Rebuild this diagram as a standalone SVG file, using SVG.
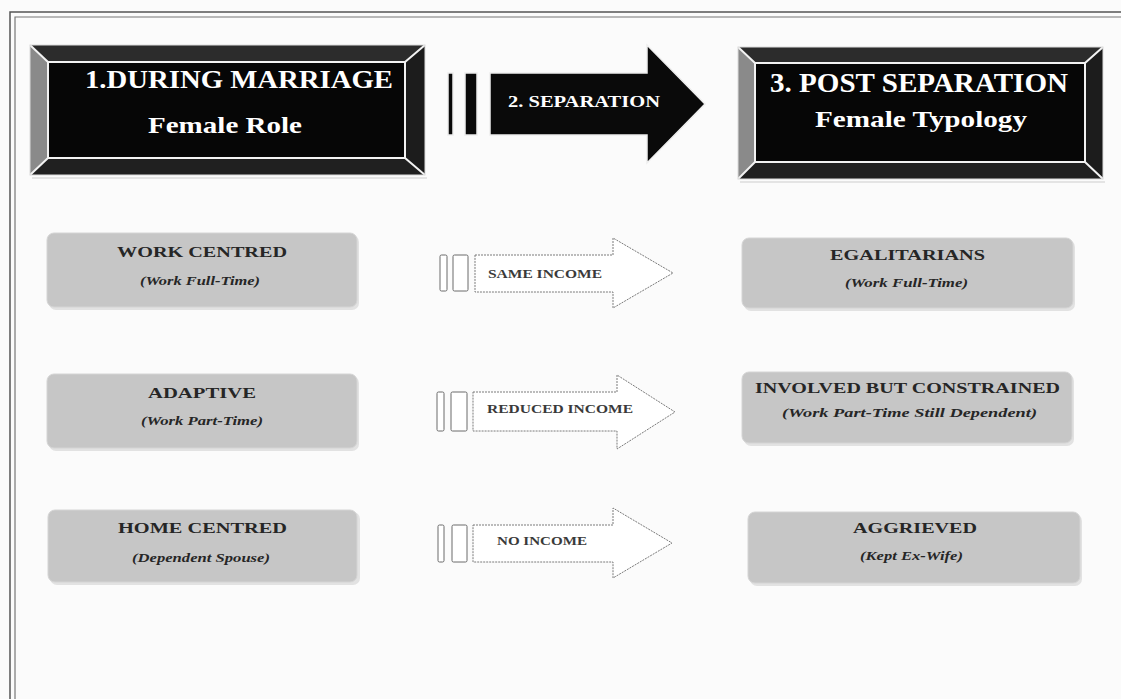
<svg xmlns="http://www.w3.org/2000/svg" width="1121" height="699" viewBox="0 0 1121 699" font-family="'Liberation Serif', 'DejaVu Serif', serif">
<defs>
<style>
text{font-family:'Liberation Serif','DejaVu Serif',serif}
.hdr{font-weight:bold;fill:#ffffff}
.nt{font-weight:bold;font-size:15px;fill:#262626}
.ns{font-weight:bold;font-style:italic;font-size:13px;fill:#262626}
.at{font-weight:bold;font-size:13px;fill:#3a3a3a}
.node{fill:#c6c6c6;stroke:#d4d4d4;stroke-width:1}
.shadow{fill:#e2e2e2}
.arr{fill:#ffffff;stroke:#7a7a7a;stroke-width:1;stroke-dasharray:2 1}
.bar{fill:#ffffff;stroke:#6a6a6a;stroke-width:1}
.bevT{fill:#2c2c2c}
.bevL{fill:#8a8a8a}
.bevR{fill:#1c1c1c}
.bevB{fill:#202020}
.face{fill:#060606;stroke:#f2f2f2;stroke-width:2}
.wl{stroke:#f2f2f2;stroke-width:2;fill:none}
</style>
</defs>
<rect x="0" y="0" width="1121" height="699" fill="#fbfbfb"/>
<g id="frame" fill="none">
<polyline points="10,699 10,12 1121,12" stroke="#555" stroke-width="1.5"/>
<polyline points="15,699 15,17 1121,17" stroke="#777" stroke-width="1.2"/>
</g>

<g id="header-during-marriage">
<rect x="32" y="177" width="395" height="2" fill="#e4e4e4"/>
<polygon class="bevT" points="30,45 425,45 405,62 48,62"/>
<polygon class="bevL" points="30,45 48,62 48,158 30,175"/>
<polygon class="bevR" points="425,45 425,175 405,158 405,62"/>
<polygon class="bevB" points="30,175 48,158 405,158 425,175"/>
<rect class="face" x="48" y="62" width="357" height="96"/>
<path class="wl" d="M30,45 L48,62 M425,45 L405,62 M30,175 L48,158 M425,175 L405,158"/>
<rect x="30" y="45" width="395" height="130" fill="none" stroke="#dcdcdc" stroke-width="1"/>
<text class="hdr" x="85" y="88" font-size="26" textLength="308" lengthAdjust="spacingAndGlyphs">1.DURING MARRIAGE</text>
<text class="hdr" x="148" y="133" font-size="23" textLength="154" lengthAdjust="spacingAndGlyphs">Female Role</text>
</g>

<g id="header-separation">
<rect x="448" y="73" width="5" height="62" fill="#0a0a0a" stroke="#eee" stroke-width="1.5"/>
<rect x="465" y="73" width="12" height="62" fill="#0a0a0a" stroke="#eee" stroke-width="1.5"/>
<path d="M490,73 H647 V45 L705,104 L647,163 V135 H490 Z" fill="#0a0a0a" stroke="#eee" stroke-width="1.5"/>
<text class="hdr" x="508" y="107" font-size="17" textLength="152" lengthAdjust="spacingAndGlyphs">2. SEPARATION</text>
</g>

<g id="header-post-separation">
<rect x="740" y="181" width="365" height="2" fill="#e4e4e4"/>
<polygon class="bevT" points="738,47 1103,47 1085,63 755,63"/>
<polygon class="bevL" points="738,47 755,63 755,162 738,179"/>
<polygon class="bevR" points="1103,47 1103,179 1085,162 1085,63"/>
<polygon class="bevB" points="738,179 755,162 1085,162 1103,179"/>
<rect class="face" x="755" y="63" width="330" height="99"/>
<path class="wl" d="M738,47 L755,63 M1103,47 L1085,63 M738,179 L755,162 M1103,179 L1085,162"/>
<rect x="738" y="47" width="365" height="132" fill="none" stroke="#dcdcdc" stroke-width="1"/>
<text class="hdr" x="770" y="92" font-size="27" textLength="298" lengthAdjust="spacingAndGlyphs">3. POST SEPARATION</text>
<text class="hdr" x="815" y="127" font-size="24" textLength="212" lengthAdjust="spacingAndGlyphs">Female Typology</text>
</g>

<g id="node-work-centred">
<rect class="shadow" x="49" y="235" width="310" height="75" rx="7"/>
<rect class="node" x="47" y="233" width="310" height="74" rx="7"/>
<text class="nt" x="117" y="257" textLength="170" lengthAdjust="spacingAndGlyphs">WORK CENTRED</text>
<text class="ns" x="140" y="285" textLength="120" lengthAdjust="spacingAndGlyphs">(Work Full-Time)</text>
</g>

<g id="node-adaptive">
<rect class="shadow" x="49" y="376" width="310" height="75" rx="7"/>
<rect class="node" x="47" y="374" width="310" height="74" rx="7"/>
<text class="nt" x="148" y="398" textLength="108" lengthAdjust="spacingAndGlyphs">ADAPTIVE</text>
<text class="ns" x="141" y="425" textLength="122" lengthAdjust="spacingAndGlyphs">(Work Part-Time)</text>
</g>

<g id="node-home-centred">
<rect class="shadow" x="50" y="512" width="310" height="73" rx="7"/>
<rect class="node" x="48" y="510" width="309" height="72" rx="7"/>
<text class="nt" x="118" y="533" textLength="169" lengthAdjust="spacingAndGlyphs">HOME CENTRED</text>
<text class="ns" x="132" y="562" textLength="138" lengthAdjust="spacingAndGlyphs">(Dependent Spouse)</text>
</g>

<g id="node-egalitarians">
<rect class="shadow" x="744" y="240" width="331" height="71" rx="7"/>
<rect class="node" x="742" y="238" width="331" height="70" rx="7"/>
<text class="nt" x="830" y="260" textLength="155" lengthAdjust="spacingAndGlyphs">EGALITARIANS</text>
<text class="ns" x="845" y="287" textLength="123" lengthAdjust="spacingAndGlyphs">(Work Full-Time)</text>
</g>

<g id="node-involved">
<rect class="shadow" x="744" y="374" width="330" height="72" rx="7"/>
<rect class="node" x="742" y="372" width="330" height="71" rx="7"/>
<text class="nt" x="755" y="393" textLength="305" lengthAdjust="spacingAndGlyphs">INVOLVED BUT CONSTRAINED</text>
<text class="ns" x="782" y="417" textLength="255" lengthAdjust="spacingAndGlyphs">(Work Part-Time Still Dependent)</text>
</g>

<g id="node-aggrieved">
<rect class="shadow" x="750" y="514" width="332" height="72" rx="7"/>
<rect class="node" x="748" y="512" width="332" height="71" rx="7"/>
<text class="nt" x="853" y="533" textLength="124" lengthAdjust="spacingAndGlyphs">AGGRIEVED</text>
<text class="ns" x="860" y="560" textLength="103" lengthAdjust="spacingAndGlyphs">(Kept Ex-Wife)</text>
</g>

<g id="connectors">
<g id="arrow-same-income">
<rect class="bar" x="440" y="255" width="7" height="36" rx="1.5"/>
<rect class="bar" x="453" y="255" width="15" height="36" rx="1.5"/>
<path class="arr" d="M475,255 H613 V238 L673,273 L613,308 V292 H475 Z"/>
<text class="at" x="488" y="278" textLength="114" lengthAdjust="spacingAndGlyphs">SAME INCOME</text>
</g>
<g id="arrow-reduced-income">
<rect class="bar" x="437" y="392" width="7" height="39" rx="1.5"/>
<rect class="bar" x="451" y="392" width="16" height="39" rx="1.5"/>
<path class="arr" d="M473,392 H617 V375 L675,412 L617,449 V431 H473 Z"/>
<text class="at" x="487" y="413" textLength="146" lengthAdjust="spacingAndGlyphs">REDUCED INCOME</text>
</g>
<g id="arrow-no-income">
<rect class="bar" x="438" y="525" width="6" height="37" rx="1.5"/>
<rect class="bar" x="452" y="525" width="15" height="37" rx="1.5"/>
<path class="arr" d="M473,525 H613 V508 L672,543 L613,578 V562 H473 Z"/>
<text class="at" x="497" y="545" textLength="90" lengthAdjust="spacingAndGlyphs">NO INCOME</text>
</g>
</g>
</svg>
